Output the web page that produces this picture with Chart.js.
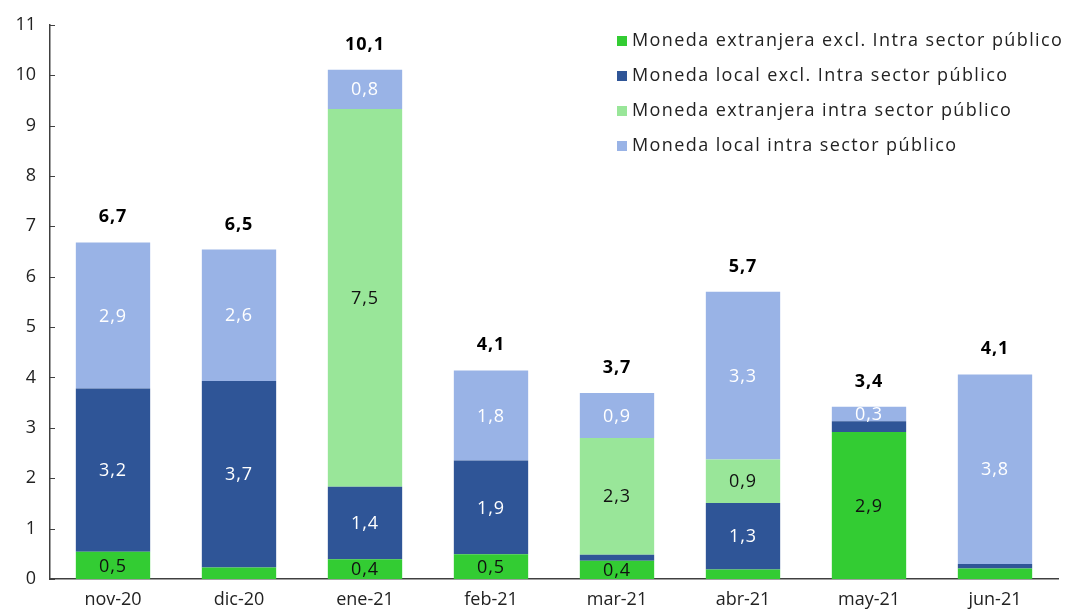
<!DOCTYPE html>
<html>
<head>
<meta charset="utf-8">
<script src="https://cdn.jsdelivr.net/npm/chart.js@4/dist/chart.umd.min.js"></script>
<style>
  html, body { margin: 0; padding: 0; background: #fff; }
  #wrap { width: 1066px; height: 613px; }
</style>
</head>
<body>
<div id="wrap"><canvas id="chart" width="1066" height="613"></canvas></div>
<script>
  var categories = ['nov-20', 'dic-20', 'ene-21', 'feb-21', 'mar-21', 'abr-21', 'may-21', 'jun-21'];
  var yTicks = [0, 1, 2, 3, 4, 5, 6, 7, 8, 9, 10, 11];

  var extranjeraExcl = [0.54, 0.23, 0.39, 0.49, 0.36, 0.19, 2.92, 0.21];
  var localExcl = [3.24, 3.70, 1.44, 1.86, 0.12, 1.32, 0.21, 0.09];
  var extranjeraIntra = [null, null, 7.50, null, 2.32, 0.86, null, null];
  var localIntra = [2.90, 2.61, 0.78, 1.79, 0.89, 3.33, 0.29, 3.76];

  var seriesNames = [
    'Moneda extranjera excl. Intra sector público',
    'Moneda local excl. Intra sector público',
    'Moneda extranjera intra sector público',
    'Moneda local intra sector público'
  ];

  var colors = {
    green: '#33cc33',
    blue: '#2f5597',
    lightGreen: '#99e699',
    lightBlue: '#99b3e6'
  };
  var labelColors = ['#111', '#fff', '#111', '#fff'];
  var fontFamily = '"Open Sans", sans-serif';

  function fmt(v) {
    return v.toFixed(1).replace('.', ',');
  }

  // in-bar values and totals
  var valueLabels = {
    id: 'valueLabels',
    afterDatasetsDraw: function (chart) {
      var ctx = chart.ctx;
      ctx.save();
      ctx.letterSpacing = '1px';
      ctx.textAlign = 'center';
      ctx.textBaseline = 'middle';
      ctx.font = '18px ' + fontFamily;
      chart.data.datasets.forEach(function (ds, di) {
        var meta = chart.getDatasetMeta(di);
        meta.data.forEach(function (bar, i) {
          var v = ds.data[i];
          if (v == null || v < 0.25) return;
          ctx.fillStyle = labelColors[di];
          ctx.fillText(fmt(v), bar.x, (bar.y + bar.base) / 2 + 1);
        });
      });
      var yScale = chart.scales.y;
      var xScale = chart.scales.x;
      ctx.font = 'bold 18px ' + fontFamily;
      ctx.fillStyle = '#000';
      ctx.textBaseline = 'alphabetic';
      categories.forEach(function (c, i) {
        var total = 0;
        chart.data.datasets.forEach(function (ds) { total += ds.data[i] || 0; });
        ctx.fillText(fmt(total), xScale.getPixelForValue(i), yScale.getPixelForValue(total) - 20);
      });
      ctx.restore();
    }
  };

  // inward tick marks on y axis + legend top right
  var extras = {
    id: 'extras',
    afterDraw: function (chart) {
      var ctx = chart.ctx;
      var yScale = chart.scales.y;
      var left = chart.chartArea.left;
      ctx.save();
      ctx.strokeStyle = '#404040';
      ctx.lineWidth = 1;
      yTicks.forEach(function (t) {
        var y = Math.round(yScale.getPixelForValue(t)) + 0.5;
        ctx.beginPath();
        ctx.moveTo(left, y);
        ctx.lineTo(left + 5, y);
        ctx.stroke();
      });
      var sw = [colors.green, colors.blue, colors.lightGreen, colors.lightBlue];
      ctx.font = '18px ' + fontFamily;
      ctx.letterSpacing = '1.4px';
      ctx.textAlign = 'left';
      ctx.textBaseline = 'middle';
      seriesNames.forEach(function (name, i) {
        var y = 41 + i * 35;
        ctx.fillStyle = sw[i];
        ctx.fillRect(617, y - 5, 10, 10);
        ctx.fillStyle = '#222';
        ctx.fillText(name, 632, y);
      });
      ctx.restore();
    }
  };

  new Chart(document.getElementById('chart'), {
    type: 'bar',
    data: {
      labels: categories,
      datasets: [
        { label: seriesNames[0], data: extranjeraExcl, backgroundColor: colors.green },
        { label: seriesNames[1], data: localExcl, backgroundColor: colors.blue },
        { label: seriesNames[2], data: extranjeraIntra, backgroundColor: colors.lightGreen },
        { label: seriesNames[3], data: localIntra, backgroundColor: colors.lightBlue }
      ]
    },
    options: {
      responsive: false,
      animation: false,
      layout: { padding: { top: 7, right: 8, bottom: 0, left: 0 } },
      datasets: { bar: { categoryPercentage: 1, barPercentage: 0.59 } },
      plugins: {
        legend: { display: false },
        tooltip: { enabled: false }
      },
      scales: {
        x: {
          stacked: true,
          grid: { display: false, drawTicks: false },
          border: { color: '#404040', width: 1.5 },
          ticks: { color: '#222', font: { family: fontFamily, size: 18 }, padding: 10 },
          afterFit: function (axis) { axis.height = 34; }
        },
        y: {
          stacked: true,
          min: 0,
          max: 11,
          afterBuildTicks: function (axis) {
            axis.ticks = yTicks.map(function (v) { return { value: v }; });
          },
          afterFit: function (axis) { axis.width = 50; },
          grid: { display: false, drawTicks: false },
          border: { color: '#404040', width: 1.5 },
          ticks: { color: '#222', font: { family: fontFamily, size: 18 }, padding: 14 }
        }
      }
    },
    plugins: [valueLabels, extras]
  });
</script>
</body>
</html>
